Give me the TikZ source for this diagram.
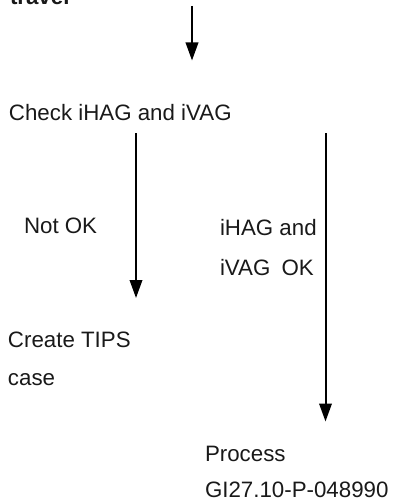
\documentclass[tikz,border=0pt]{standalone}
\usepackage{fontspec}
\setmainfont{Liberation Sans}
\usetikzlibrary{arrows.meta}
\tikzset{
  lbl/.style={anchor=base west, inner sep=0pt, outer sep=0pt, font=\fontsize{22.3}{26}\selectfont, text=black!90},
  flow/.style={line width=2pt, -{Triangle[width=12.5pt,length=18pt]}}
}
\begin{document}
\begin{tikzpicture}[x=1pt,y=-1pt]
\useasboundingbox (0,0) rectangle (403,503);
% texts
\node[lbl, font=\fontsize{22.3}{26}\selectfont\bfseries] (travel) at (10,5) {travel};
\node[lbl] (check) at (9,120) {Check iHAG and iVAG};
\node[lbl] (notok) at (24,233) {Not OK};
\node[lbl] (ok1) at (220,235) {iHAG and};
\node[lbl] (ok2) at (220,275) {iVAG\hspace{0.5em}OK};
\node[lbl] (tips1) at (8,347) {Create TIPS};
\node[lbl] (tips2) at (8,385) {case};
\node[lbl] (proc1) at (205,461) {Process};
\node[lbl] (proc2) at (205,497) {GI27.10-P-048990};
% connector ends
\coordinate (a0s) at (192,6);
\coordinate (a0e) at (192,60.5);
\coordinate (a1s) at (136,133);
\coordinate (a1e) at (136,298);
\coordinate (a2s) at (325.5,133);
\coordinate (a2e) at (325.5,421.5);
\draw[flow] (a0s) -- (a0e);
\draw[flow] (a1s) -- (a1e);
\draw[flow] (a2s) -- (a2e);
\end{tikzpicture}
\end{document}
